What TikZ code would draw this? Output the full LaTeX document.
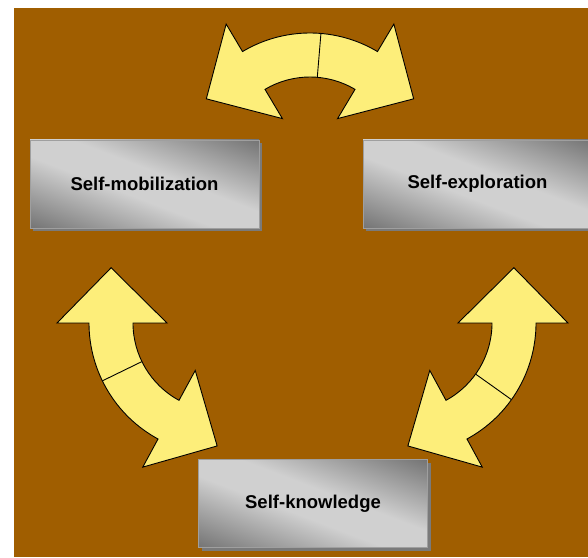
\documentclass[tikz,border=0pt]{standalone}
\usepackage{fontspec}
\setmainfont{Liberation Sans}
\usetikzlibrary{shadows}

\definecolor{brownbg}{RGB}{160,94,0}
\definecolor{arrowyellow}{RGB}{253,238,122}
\definecolor{boxlight}{RGB}{208,208,208}
\definecolor{boxdark}{RGB}{104,104,104}
\definecolor{boxshade}{RGB}{122,122,122}

\pgfdeclareverticalshading{boxshading}{100bp}{color(0bp)=(boxdark); color(14bp)=(boxdark);
	color(44bp)=(boxlight); color(56bp)=(boxlight); color(86bp)=(boxdark); color(100bp)=(boxdark)}

% #1 centre, #2 start angle, #3 end angle
\newcommand{\twowayarrow}[3]{
	\begin{scope}[shift={#1}]
		\draw[arrowshape] (#3:132) -- (#3:164) -- ({#3+26.7}:123) -- (#3:54) -- (#3:88)
			arc[start angle=#3, end angle=#2, radius=88]
			-- (#2:54) -- ({#2-26.7}:123) -- (#2:164) -- (#2:132)
			arc[start angle=#2, end angle=#3, radius=132] -- cycle;
		\draw[arrowshape] ({#2+26}:88) -- ({#2+26}:132);
	\end{scope}}

\begin{document}
\begin{tikzpicture}[
		x=1pt, y=1pt,
		every node/.style = {shape=rectangle, draw=gray!75, line width=0.8pt, align=center,
			minimum width=229pt, minimum height=88pt,
			font=\bfseries\fontsize{18.5}{22}\selectfont,
			shading=boxshading, shading angle=-21,
			general shadow={shadow xshift=3pt, shadow yshift=-3pt, fill=boxshade}},
		arrowshape/.style = {draw=black, line width=0.9pt, fill=arrowyellow, line join=miter}]
	\useasboundingbox (0,0) rectangle (588,557);
	\clip (0,0) rectangle (588,557);
	\fill[white] (0,0) rectangle (588,557);
	\fill[brownbg] (14,0) rectangle (588,549);

	\node (mobil) at (144.5,373) {Self-mobilization};
	\node (explor) at (477.5,373) {Self-exploration};
	\node (knowl) at (313,53.5) {Self-knowledge};

	\coordinate (topc) at (310,392);
	\coordinate (leftc) at (221,234);
	\coordinate (rightc) at (404,234);

	\twowayarrow{(topc)}{59.25}{120.75}
	\twowayarrow{(leftc)}{180}{241.5}
	\twowayarrow{(rightc)}{-61.5}{0}
\end{tikzpicture}
\end{document}
